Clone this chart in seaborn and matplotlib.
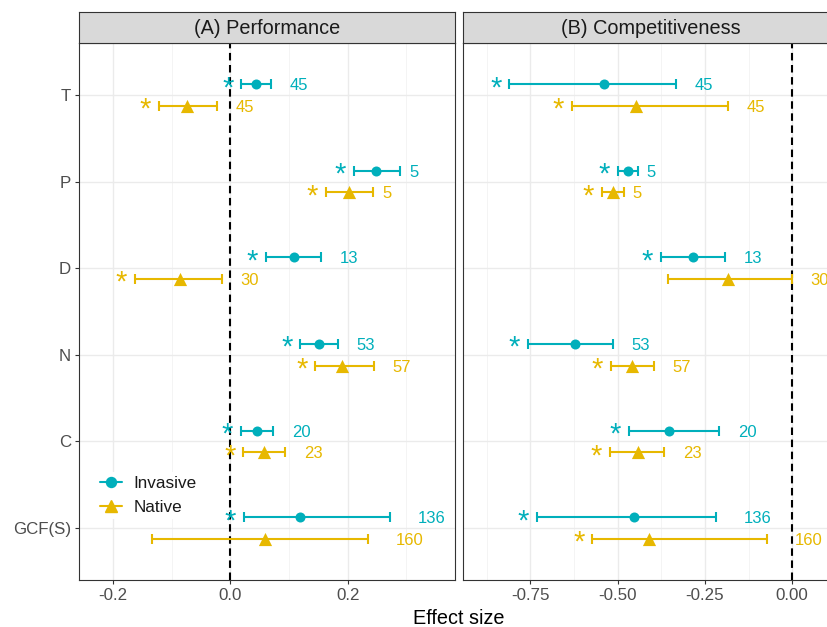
import numpy as np
import pandas as pd
import matplotlib
matplotlib.use("Agg")
import matplotlib.pyplot as plt
from matplotlib.lines import Line2D
import seaborn as sns

# ---------------- data ----------------
categories = ['T', 'P', 'D', 'N', 'C', 'GCF(S)']
groups = ['Invasive', 'Native']
panels = ['(A) Performance', '(B) Competitiveness']

perf_inv_est = [0.044, 0.249, 0.109, 0.152, 0.046, 0.119]
perf_inv_lo = [0.019, 0.211, 0.061, 0.119, 0.018, 0.023]
perf_inv_hi = [0.069, 0.289, 0.155, 0.184, 0.073, 0.272]
perf_inv_n = [45, 5, 13, 53, 20, 136]
perf_inv_sig = [True, True, True, True, True, True]

perf_nat_est = [-0.074, 0.203, -0.086, 0.191, 0.058, 0.059]
perf_nat_lo = [-0.122, 0.163, -0.163, 0.145, 0.022, -0.133]
perf_nat_hi = [-0.022, 0.243, -0.014, 0.245, 0.094, 0.234]
perf_nat_n = [45, 5, 30, 57, 23, 160]
perf_nat_sig = [True, True, True, True, True, False]

comp_inv_est = [-0.538, -0.471, -0.283, -0.621, -0.352, -0.454]
comp_inv_lo = [-0.810, -0.499, -0.377, -0.757, -0.468, -0.731]
comp_inv_hi = [-0.333, -0.443, -0.193, -0.513, -0.209, -0.219]
comp_inv_n = [45, 5, 13, 53, 20, 136]
comp_inv_sig = [True, True, True, True, True, True]

comp_nat_est = [-0.448, -0.514, -0.183, -0.459, -0.443, -0.409]
comp_nat_lo = [-0.632, -0.546, -0.357, -0.520, -0.522, -0.573]
comp_nat_hi = [-0.183, -0.483, 0.000, -0.395, -0.366, -0.072]
comp_nat_n = [45, 5, 30, 57, 23, 160]
comp_nat_sig = [True, True, False, True, True, True]

xticks_A = [-0.2, 0.0, 0.2]
xticklabels_A = ['-0.2', '0.0', '0.2']
xticks_B = [-0.75, -0.50, -0.25, 0.00]
xticklabels_B = ['-0.75', '-0.50', '-0.25', '0.00']

colors = {'Invasive': '#00AFBB', 'Native': '#E7B800'}
markers = {'Invasive': 'o', 'Native': '^'}
msize = {'Invasive': 52, 'Native': 90}
dodge = {'Invasive': -0.125, 'Native': 0.125}

rows = []
def add(panel, group, est, lo, hi, n, sig):
    for i, c in enumerate(categories):
        rows.append(dict(panel=panel, group=group, cat=c, est=est[i], lo=lo[i],
                         hi=hi[i], n=n[i], sig=sig[i]))
add(panels[0], 'Invasive', perf_inv_est, perf_inv_lo, perf_inv_hi, perf_inv_n, perf_inv_sig)
add(panels[0], 'Native', perf_nat_est, perf_nat_lo, perf_nat_hi, perf_nat_n, perf_nat_sig)
add(panels[1], 'Invasive', comp_inv_est, comp_inv_lo, comp_inv_hi, comp_inv_n, comp_inv_sig)
add(panels[1], 'Native', comp_nat_est, comp_nat_lo, comp_nat_hi, comp_nat_n, comp_nat_sig)
df = pd.DataFrame(rows)
df['ypos'] = df['cat'].map({c: i for i, c in enumerate(categories)}) + df['group'].map(dodge)

# ---------------- figure ----------------
sns.set_theme(style='white')
plt.rcParams['font.family'] = ['Liberation Sans', 'DejaVu Sans']

W, H = 827, 627
fig = plt.figure(figsize=(W / 100, H / 100), dpi=100)

def fx(px):
    return px / W

def fy(py):
    return 1 - py / H

panel_left = [79, 463]
panel_w = 376
top, bottom, strip_top = 43, 580, 12
xlims = [(-0.258, 0.383), (-0.943, 0.134)]
minor = [[-0.1, 0.1, 0.3], [-0.875, -0.625, -0.375, -0.125]]
xt = [xticks_A, xticks_B]
xtl = [xticklabels_A, xticklabels_B]

tick_color = '#4D4D4D'
border = '#333333'
n_fs = 12
star_fs = 21

axes = []
for k, p in enumerate(panels):
    ax = fig.add_axes([fx(panel_left[k]), fy(bottom), panel_w / W, (bottom - top) / H])
    axes.append(ax)
    sub = df[df.panel == p]
    ax.set_xlim(*xlims[k])
    ax.set_ylim(5.6, -0.6)
    # grid
    for v in xt[k]:
        ax.axvline(v, color='#EBEBEB', lw=1.0, zorder=0)
    for v in minor[k]:
        ax.axvline(v, color='#F2F2F2', lw=0.6, zorder=0)
    for i in range(len(categories)):
        ax.axhline(i, color='#EBEBEB', lw=1.0, zorder=0)
    ax.axvline(0, color='black', lw=1.5, ls=(0, (3.6, 2.2)), zorder=1)
    for g in groups:
        s = sub[sub.group == g]
        ax.errorbar(s['est'], s['ypos'], xerr=[s['est'] - s['lo'], s['hi'] - s['est']],
                    fmt='none', ecolor=colors[g], elinewidth=1.5, capsize=3.4,
                    capthick=1.5, zorder=2)
        sns.scatterplot(data=s, x='est', y='ypos', color=colors[g], marker=markers[g],
                        s=msize[g], linewidth=0, ax=ax, zorder=3, legend=False)
        for _, r in s.iterrows():
            lab = str(r['n'])
            ax.annotate(lab, xy=(r['hi'], r['ypos']), xytext=(len(lab) * 0.556 * n_fs, -0.358 * n_fs),
                        textcoords='offset points', ha='left', va='baseline',
                        fontsize=n_fs, color=colors[g], annotation_clip=False)
            if r['sig']:
                ax.annotate('*', xy=(r['lo'], r['ypos']), xytext=(-9.7, -8.6),
                            textcoords='offset points', ha='center', va='baseline',
                            fontsize=star_fs, color=colors[g], annotation_clip=False)
    ax.set_xlabel('')
    ax.set_ylabel('')
    ax.set_xticks(xt[k])
    ax.set_xticklabels(xtl[k])
    ax.set_yticks(range(len(categories)))
    if k == 0:
        ax.set_yticklabels(categories)
    else:
        ax.set_yticklabels([])
    ax.tick_params(axis='both', colors=border, labelcolor=tick_color, labelsize=12.2,
                   length=2.75, width=0.8, pad=3.0, direction='out')
    ax.tick_params(axis='x', bottom=True)
    ax.tick_params(axis='y', left=(k == 0))
    for sp in ax.spines.values():
        sp.set_color(border)
        sp.set_linewidth(0.8)
        sp.set_visible(True)
    ax.set_facecolor('white')
    # strip
    sax = fig.add_axes([fx(panel_left[k]), fy(top), panel_w / W, (top - strip_top) / H])
    sax.set_facecolor('#D9D9D9')
    sax.set_xticks([])
    sax.set_yticks([])
    for sp in sax.spines.values():
        sp.set_color(border)
        sp.set_linewidth(0.8)
    sax.text(0.5, 0.47, p, ha='center', va='center', fontsize=14.3, color='#1A1A1A',
             transform=sax.transAxes)

handles = [Line2D([0], [0], color=colors[g], marker=markers[g], lw=1.5,
                  markersize=(7.2 if g == 'Invasive' else 9)) for g in groups]
leg = axes[0].legend(handles, groups, loc='center left',
                     bbox_to_anchor=((96 - 79) / panel_w, (bottom - 495.5) / (bottom - top)),
                     frameon=True, facecolor='white', edgecolor='none', framealpha=1,
                     fontsize=12.3, handlelength=1.25, handletextpad=0.7, labelspacing=0.55,
                     borderpad=0.25, borderaxespad=0)
for t in leg.get_texts():
    t.set_color('#1A1A1A')

fig.text(fx(459), fy(624), 'Effect size', ha='center', va='baseline', fontsize=14.3,
         color='black')

fig.savefig('out.png', dpi=100, facecolor='white')
